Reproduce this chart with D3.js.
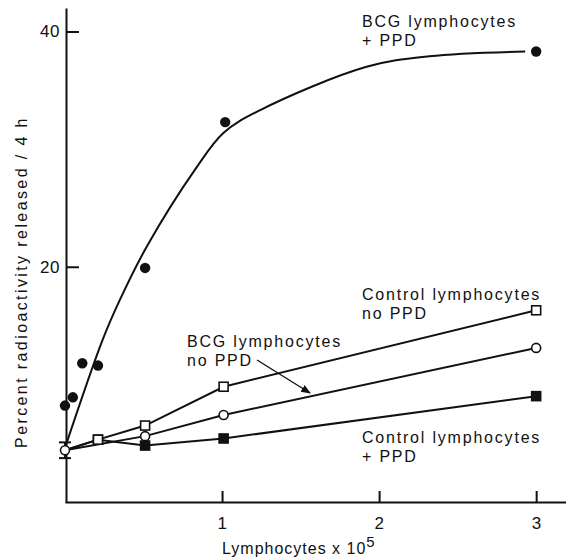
<!DOCTYPE html>
<html>
<head>
<meta charset="utf-8">
<script src="https://cdn.jsdelivr.net/npm/d3@7"></script>
<style>
  body { margin: 0; background: #fff; }
  text { font-family: "Liberation Sans", Arial, sans-serif; fill: #111; }
</style>
</head>
<body>
<div id="container"></div>
<script>
const width = 566;
const height = 560;

// BCG lymphocytes + PPD (filled circles)
const bcgPpdX = [0, 0.05, 0.11, 0.21, 0.51, 1.02, 3];
const bcgPpdY = [8.2, 8.9, 11.8, 11.6, 19.9, 32.3, 38.3];
// hand drawn curve through the BCG + PPD points
const curveX = [0, 0.24, 0.35, 0.52, 0.83, 1.01, 1.24, 1.92, 2.32, 2.93];
const curveY = [4.6, 13.8, 17.2, 21.7, 28.3, 31.4, 33.3, 37.0, 37.9, 38.3];

// Control lymphocytes no PPD (open squares)
const ctrlNoX = [0, 0.21, 0.51, 1.01, 3];
const ctrlNoY = [4.4, 5.3, 6.5, 9.8, 16.3];
// BCG lymphocytes no PPD (open circles)
const bcgNoX = [0, 0.51, 1.01, 3];
const bcgNoY = [4.4, 5.6, 7.4, 13.1];
// Control lymphocytes + PPD (filled squares)
const ctrlPpdX = [0, 0.21, 0.51, 1.01, 3];
const ctrlPpdY = [4.4, 5.3, 4.8, 5.4, 9.0];

// shared starting point and its error bar
const originX = 0;
const originY = 4.4;
const originErr = 0.67;

const xTicks = [1, 2, 3];
const yTicks = [20, 40];

const x = d3.scaleLinear().domain([0, 3.19]).range([65, 566]);
const y = d3.scaleLinear().domain([0, 42]).range([502, 8]);

const svg = d3
  .select("#container")
  .append("svg")
  .attr("width", width)
  .attr("height", height);

// axes, ticks pointing inward
const xAxis = svg
  .append("g")
  .attr("transform", `translate(0,${y(0)})`)
  .call(
    d3.axisBottom(x).tickValues(xTicks).tickFormat(d3.format("d"))
      .tickSizeInner(-11).tickSizeOuter(0).tickPadding(15)
  );
const yAxis = svg
  .append("g")
  .attr("transform", `translate(${x(0) + 1},0)`)
  .call(
    d3.axisLeft(y).tickValues(yTicks)
      .tickSizeInner(-13).tickSizeOuter(0).tickPadding(6)
  );

[xAxis, yAxis].forEach((g) => {
  g.selectAll("path, line").attr("stroke", "#111").attr("stroke-width", 2);
  g.selectAll("text")
    .attr("fill", "#111")
    .style("font-size", "17px")
    .style("letter-spacing", "0.5px")
    .style("font-family", "Liberation Sans, Arial, sans-serif");
});

// axis titles
const xTitle = svg
  .append("text")
  .attr("x", 222)
  .attr("y", 554)
  .style("font-size", "16px")
  .style("letter-spacing", "1px");
xTitle.append("tspan").text("Lymphocytes x 10");
xTitle.append("tspan").attr("dy", -7).style("font-size", "15px").text("5");

svg
  .append("text")
  .attr("transform", "translate(27,282) rotate(-90)")
  .attr("text-anchor", "middle")
  .style("font-size", "16px")
  .style("letter-spacing", "2.4px")
  .text("Percent radioactivity released / 4 h");

const line = d3.line().x((d) => x(d[0])).y((d) => y(d[1]));
const pairs = (xs, ys) => xs.map((v, i) => [v, ys[i]]);

const drawLine = (pts, curve) =>
  svg
    .append("path")
    .datum(pts)
    .attr("fill", "none")
    .attr("stroke", "#111")
    .attr("stroke-width", 2)
    .attr("d", line.curve(curve)(pts));

drawLine(pairs(curveX, curveY), d3.curveCatmullRom.alpha(0.5));
drawLine(pairs(ctrlPpdX, ctrlPpdY), d3.curveLinear);
drawLine(pairs(bcgNoX, bcgNoY), d3.curveLinear);
drawLine(pairs(ctrlNoX, ctrlNoY), d3.curveLinear);

// error bar at origin
const eb = svg.append("g").attr("stroke", "#111").attr("stroke-width", 2);
eb.append("line")
  .attr("x1", x(originX)).attr("x2", x(originX))
  .attr("y1", y(originY - originErr)).attr("y2", y(originY + originErr));
[originY - originErr, originY + originErr].forEach((v) => {
  eb.append("line")
    .attr("x1", x(originX) - 6).attr("x2", x(originX) + 6)
    .attr("y1", y(v)).attr("y2", y(v));
});

// markers
const squares = (xs, ys, fill) =>
  svg
    .append("g")
    .selectAll("rect")
    .data(pairs(xs, ys).slice(1))
    .enter()
    .append("rect")
    .attr("x", (d) => x(d[0]) - 4.5)
    .attr("y", (d) => y(d[1]) - 4.5)
    .attr("width", 9)
    .attr("height", 9)
    .attr("fill", fill)
    .attr("stroke", "#111")
    .attr("stroke-width", 1.6);

squares(ctrlPpdX, ctrlPpdY, "#111");
squares(ctrlNoX, ctrlNoY, "#fff");

svg
  .append("g")
  .selectAll("circle")
  .data(pairs(bcgNoX, bcgNoY).slice(1).concat([[originX, originY]]))
  .enter()
  .append("circle")
  .attr("cx", (d) => x(d[0]))
  .attr("cy", (d) => y(d[1]))
  .attr("r", 4.5)
  .attr("fill", "#fff")
  .attr("stroke", "#111")
  .attr("stroke-width", 1.6);

svg
  .append("g")
  .selectAll("circle")
  .data(pairs(bcgPpdX, bcgPpdY))
  .enter()
  .append("circle")
  .attr("cx", (d) => x(d[0]))
  .attr("cy", (d) => y(d[1]))
  .attr("r", 5.2)
  .attr("fill", "#111");

// series labels
const labels = [
  { lines: ["BCG lymphocytes", "+ PPD"], x: 362, y: 27 },
  { lines: ["Control lymphocytes", "no PPD"], x: 362, y: 300 },
  { lines: ["BCG lymphocytes", "no PPD"], x: 187, y: 347 },
  { lines: ["Control lymphocytes", "+ PPD"], x: 362, y: 443 },
];
labels.forEach((l) => {
  const t = svg
    .append("text")
    .attr("x", l.x)
    .attr("y", l.y)
    .style("font-size", "16px")
    .style("letter-spacing", "1.8px");
  l.lines.forEach((s, i) => {
    t.append("tspan").attr("x", l.x).attr("dy", i === 0 ? 0 : 19).text(s);
  });
});

// arrow from the "no PPD" label to the open circle line
svg
  .append("defs")
  .append("marker")
  .attr("id", "arrow")
  .attr("viewBox", "0 0 10 10")
  .attr("refX", 9)
  .attr("refY", 5)
  .attr("markerWidth", 7)
  .attr("markerHeight", 7)
  .attr("orient", "auto")
  .append("path")
  .attr("d", "M0,1L10,5L0,9z")
  .attr("fill", "#111");

svg
  .append("line")
  .attr("x1", 257).attr("y1", 360)
  .attr("x2", 310).attr("y2", 393)
  .attr("stroke", "#111")
  .attr("stroke-width", 1.4)
  .attr("marker-end", "url(#arrow)");
</script>
</body>
</html>
